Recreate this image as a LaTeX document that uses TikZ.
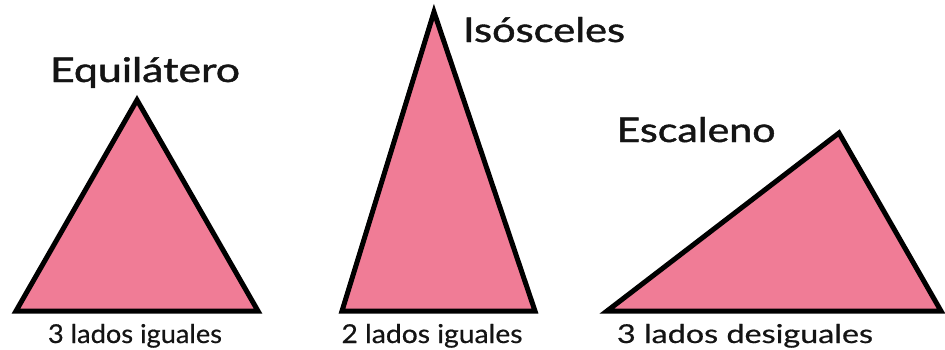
\documentclass[tikz,border=0pt]{standalone}
\usepackage{fontspec}
\usepackage{graphicx}
\setmainfont{Lato}
\newfontfamily\titlefont{Lato}[FakeBold=1.2]
\newfontfamily\subfont{Lato}[FakeBold=0.5]
\definecolor{tripink}{RGB}{240,124,150}
\definecolor{txt}{RGB}{20,20,20}
\newcommand{\wfit}[2]{\resizebox{#1}{\height}{#2}}
\begin{document}
\begin{tikzpicture}[x=1pt,y=-1pt,
  tri/.style={fill=tripink,draw=black,line width=5pt,line join=miter},
  title/.style={anchor=base,text=txt,font=\fontsize{34}{40}\selectfont\titlefont,inner sep=0},
  sub/.style={anchor=base,text=txt,font=\fontsize{26}{30}\selectfont\subfont,inner sep=0}]
\useasboundingbox (0,0) rectangle (945,349);
% equilatero
\coordinate (ea) at (137,100);
\coordinate (el) at (16,311);
\coordinate (er) at (258,311);
\draw[tri] (ea) -- (el) -- (er) -- cycle;
% isosceles
\coordinate (ia) at (434,12);
\coordinate (il) at (342,311);
\coordinate (ir) at (535,311);
\draw[tri] (ia) -- (il) -- (ir) -- cycle;
% escaleno
\coordinate (sa) at (839,133);
\coordinate (sl) at (607,311);
\coordinate (sr) at (941,311);
\draw[tri] (sa) -- (sl) -- (sr) -- cycle;
% labels
\node[title] (t1) at (145,82) {\wfit{190pt}{Equilátero}};
\node[title] (t2) at (544,42) {\wfit{162pt}{Isósceles}};
\node[title] (t3) at (696,142) {\wfit{159pt}{Escaleno}};
\node[sub] (s1) at (135,343) {\wfit{174pt}{3 lados iguales}};
\node[sub] (s2) at (432,343) {\wfit{181pt}{2 lados iguales}};
\node[sub] (s3) at (745,343) {\wfit{256pt}{3 lados desiguales}};
\end{tikzpicture}
\end{document}
